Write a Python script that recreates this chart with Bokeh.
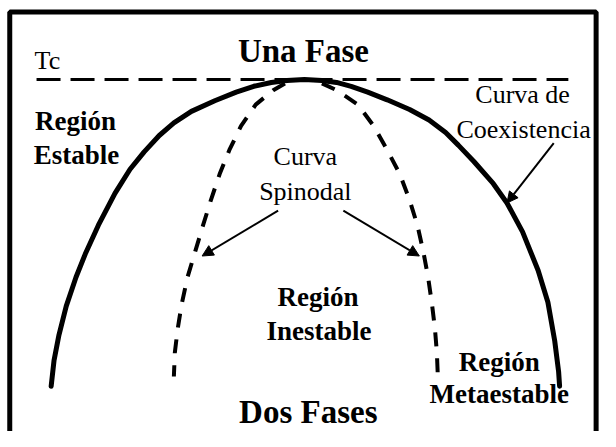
from bokeh.plotting import figure
from bokeh.models import Range1d, Arrow, NormalHead, BoxAnnotation, ColumnDataSource
from bokeh.core.properties import value
from bokeh.embed import file_html
from bokeh.resources import INLINE

# Coexistence (binodal) curve: composition-like x, temperature-like y (y grows downward)
coex_x = [52, 55, 60, 67.5, 77.5, 87, 100.5, 117.5, 133, 147.5, 163, 178, 196, 220, 242, 260, 278, 294, 312,
          330, 345, 360, 377, 397, 420, 440, 457, 470, 486, 506, 520, 536, 552, 562, 569, 573, 574]
coex_y = [400, 373, 347, 317, 287, 263, 233, 200, 175, 157, 140, 127, 115, 104, 95, 89, 85, 83, 82,
          83, 85, 89, 95, 103, 113, 124, 137, 150, 167, 190, 210, 240, 280, 313, 353, 385, 400]

# Spinodal curve, left and right branches
spin_l_x = [292, 280, 262, 247, 235, 225, 216, 208, 200, 192, 186, 182, 179, 178]
spin_l_y = [86, 93, 108, 130, 155, 180, 207, 233, 260, 287, 315, 340, 365, 390]
spin_r_x = [330, 345, 367, 383, 397, 410, 420, 428, 434, 439, 443, 446, 448, 449]
spin_r_y = [86, 93, 108, 130, 155, 180, 207, 233, 260, 287, 315, 340, 365, 390]

# Critical temperature line
tc_x = [37, 583]
tc_y = [82, 82]

# Arrows
arr_x0 = [285, 352, 568]
arr_y0 = [218, 218, 148]
arr_x1 = [207, 430, 520]
arr_y1 = [265, 265, 210]

# Labels
big_text = ["Una Fase", "Dos Fases"]
big_x = [311, 316]
big_y = [52, 427]

bold_text = ["Región", "Estable", "Región", "Inestable", "Región", "Metaestable"]
bold_x = [77, 78, 326, 327, 512, 512]
bold_y = [125, 160, 307, 343, 375, 408]

reg_text = ["Curva de", "Coexistencia", "Curva", "Spinodal"]
reg_x = [536, 537, 313, 313]
reg_y = [98, 134, 162, 198]

tc_text = ["Tc"]
tc_lx = [35]
tc_ly = [62]

FONT = value("Liberation Serif")

p = figure(width=600, height=431, x_range=Range1d(0, 616), y_range=Range1d(447, 0),
           output_backend="svg", toolbar_location=None, min_border=0,
           x_axis_location=None, y_axis_location=None)
p.grid.visible = False
p.outline_line_color = None
p.background_fill_color = "white"
p.border_fill_color = "white"

# frame
p.add_layout(BoxAnnotation(left=9.5, right=611.5, top=12, bottom=470,
                           fill_alpha=0, line_color="black", line_alpha=1, line_width=5))

p.line(tc_x, tc_y, line_color="black", line_width=3, line_dash="24 10")
p.line(coex_x, coex_y, line_color="black", line_width=5, line_join="round", line_cap="round")
p.line(spin_l_x, spin_l_y, line_color="black", line_width=4, line_dash="14 12")
p.line(spin_r_x, spin_r_y, line_color="black", line_width=4, line_dash="14 12")

asrc = ColumnDataSource(dict(x0=arr_x0, y0=arr_y0, x1=arr_x1, y1=arr_y1))
p.add_layout(Arrow(end=NormalHead(size=11, fill_color="black", line_color="black"),
                   x_start="x0", y_start="y0", x_end="x1", y_end="y1",
                   line_width=2, line_color="black", source=asrc))

p.text(x=big_x, y=big_y, text=big_text, text_font=FONT, text_font_style="bold",
       text_font_size="33px", text_align="center", text_baseline="alphabetic", text_color="black")
p.text(x=bold_x, y=bold_y, text=bold_text, text_font=FONT, text_font_style="bold",
       text_font_size="27px", text_align="center", text_baseline="alphabetic", text_color="black")
p.text(x=reg_x, y=reg_y, text=reg_text, text_font=FONT,
       text_font_size="26px", text_align="center", text_baseline="alphabetic", text_color="black")
p.text(x=tc_lx, y=tc_ly, text=tc_text, text_font=FONT,
       text_font_size="26px", text_align="left", text_baseline="alphabetic", text_color="black")

open("out.html", "w").write(file_html(p, INLINE))
